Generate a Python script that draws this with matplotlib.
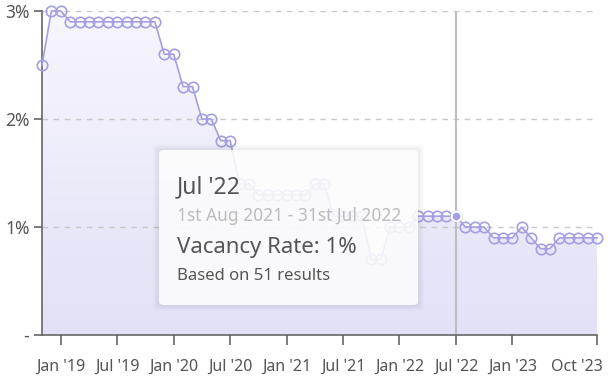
import numpy as np
import pandas as pd
import matplotlib
matplotlib.use('Agg')
import matplotlib.pyplot as plt
from matplotlib.patches import FancyBboxPatch, Polygon
from matplotlib.colors import LinearSegmentedColormap
from matplotlib.transforms import ScaledTranslation

plt.rcParams['font.family'] = ['Noto Sans', 'DejaVu Sans']

# monthly vacancy rate (%), Nov 2018 - Oct 2023
months = pd.date_range('2018-11-01', '2023-10-01', freq='MS')
vacancy = [2.5, 3.0, 3.0,
           2.9, 2.9, 2.9, 2.9, 2.9, 2.9, 2.9, 2.9, 2.9, 2.9,
           2.6, 2.6, 2.3, 2.3, 2.0, 2.0, 1.8, 1.8, 1.4, 1.4,
           1.3, 1.3, 1.3, 1.3, 1.3, 1.3, 1.4, 1.4,
           1.1, 1.1, 1.1, 1.1, 0.7, 0.7, 1.0, 1.0, 1.0,
           1.1, 1.1, 1.1, 1.1, 1.1,
           1.0, 1.0, 1.0, 0.9, 0.9, 0.9, 1.0, 0.9, 0.8, 0.8,
           0.9, 0.9, 0.9, 0.9, 0.9]

tick_months = ['2019-01', '2019-07', '2020-01', '2020-07', '2021-01',
               '2021-07', '2022-01', '2022-07', '2023-01', '2023-10']
tick_labels = ["Jan '19", "Jul '19", "Jan '20", "Jul '20", "Jan '21",
               "Jul '21", "Jan '22", "Jul '22", "Jan '23", "Oct '23"]
y_ticks = [0, 1, 2, 3]
y_labels = ['-', '1%', '2%', '3%']

hover_month = '2022-07'
tip_title = "Jul '22"
tip_range = "1st Aug 2021 - 31st Jul 2022"
tip_value = "Vacancy Rate: 1%"
tip_count = "Based on 51 results"

line_col = '#a39fe2'
axis_col = '#666666'
text_col = '#555555'

x = np.arange(len(months))
month_keys = list(months.strftime('%Y-%m'))
tick_pos = [month_keys.index(m) for m in tick_months]
hi = month_keys.index(hover_month)

fig = plt.figure(figsize=(6.13, 3.78), dpi=100)
W, H = 613, 378
ax = fig.add_axes([42 / W, 43 / H, 555 / W, 324 / H])
ax.set_xlim(0, len(x) - 1)
ax.set_ylim(0, 3)

# gradient area under the line
verts = [(x[0], 0)] + list(zip(x, vacancy)) + [(x[-1], 0)]
poly = Polygon(verts, closed=True, facecolor='none', edgecolor='none')
ax.add_patch(poly)
cmap = LinearSegmentedColormap.from_list('fade', ['#e2e1f7', '#f7f6fd'])
grad = np.linspace(0, 1, 256).reshape(-1, 1)
im = ax.imshow(grad, extent=[0, len(x) - 1, 0, 3], origin='lower',
               aspect='auto', cmap=cmap, zorder=1)
im.set_clip_path(poly)

for yv in y_ticks[1:]:
    ax.axhline(yv, color='#c8c8c8', lw=1, dashes=(4, 4), zorder=2)

ax.axvline(hi, color='#bdbdbd', lw=1.5, zorder=2)

ax.plot(x, vacancy, color=line_col, lw=1.2, marker='o', ms=7.5,
        mfc='none', mec=line_col, mew=1.2, clip_on=False, zorder=3)
ax.plot(hi, vacancy[hi], 'o', ms=7, mfc=line_col, mec='white', mew=1.5,
        clip_on=False, zorder=4)

for s in ['top', 'right']:
    ax.spines[s].set_visible(False)
for s in ['left', 'bottom']:
    ax.spines[s].set_color(axis_col)
    ax.spines[s].set_linewidth(1.2)

ax.set_yticks(y_ticks)
ax.set_yticklabels(y_labels)
ax.set_xticks(tick_pos)
ax.set_xticklabels(tick_labels)
ax.tick_params(axis='y', length=6, width=1.2, color=axis_col,
               labelcolor=text_col, labelsize=12.5, pad=3)
ax.tick_params(axis='x', length=7, width=1.2, color=axis_col,
               labelcolor=text_col, labelsize=11.5, pad=10)
last = ax.get_xticklabels()[-1]
last.set_horizontalalignment('right')
last.set_transform(last.get_transform() + ScaledTranslation(0.06, 0, fig.dpi_scale_trans))

# tooltip box
bx, by, bw, bh = 159, 150, 259, 155
for k in range(6, 0, -1):
    sh = FancyBboxPatch(((bx - k) / W, 1 - (by + bh + k) / H),
                        (bw + 2 * k) / W, (bh + 2 * k) / H,
                        boxstyle='round,pad=0,rounding_size=0.01',
                        transform=fig.transFigure, facecolor='#000000',
                        alpha=0.012, edgecolor='none', zorder=9)
    fig.patches.append(sh)
box = FancyBboxPatch((bx / W, 1 - (by + bh) / H), bw / W, bh / H,
                     boxstyle='round,pad=0,rounding_size=0.008',
                     transform=fig.transFigure, facecolor='white',
                     alpha=0.87, edgecolor='none', zorder=10)
fig.patches.append(box)

tx = 177 / W
fig.text(tx, 1 - 187 / H, tip_title, fontsize=16.5, color=text_col,
         va='center', zorder=11)
fig.text(tx, 1 - 216 / H, tip_range, fontsize=12.5, color='#bcbcbc',
         va='center', zorder=11)
fig.text(tx, 1 - 247 / H, tip_value, fontsize=16, color=text_col,
         va='center', zorder=11)
fig.text(tx, 1 - 276 / H, tip_count, fontsize=12, color=text_col,
         va='center', zorder=11)

fig.savefig('out.png', dpi=100)
